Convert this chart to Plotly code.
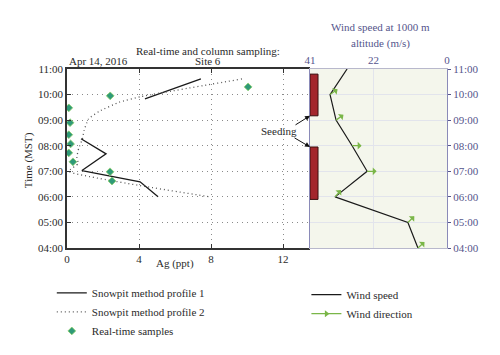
import math
import plotly.graph_objects as go

# ---------------- data ----------------
# Snowpit method profile 1 (solid): Ag (ppt) vs time (decimal hours, MST); None splits segments
p1_ag = [4.33, 7.44, None, 0.78, 2.17, 0.83, 4.06, 5.06]
p1_time = [9.83, 10.61, None, 8.27, 7.68, 7.03, 6.59, 6.00]

# Snowpit method profile 2 (dotted)
p2_ag = [9.72, 4.10, 2.90, 1.80, 1.20, 0.95, 0.85, 0.65, 0.55, 0.62, 0.10, 7.94]
p2_time = [10.61, 9.92, 9.70, 9.35, 9.05, 8.60, 8.25, 7.90, 7.55, 7.30, 7.00, 6.00]

# Real-time samples
rt_ag = [10.06, 2.40, 0.10, 0.17, 0.10, 0.20, 0.10, 0.33, 2.39, 2.50]
rt_time = [10.30, 9.95, 9.48, 8.90, 8.43, 8.07, 7.72, 7.37, 6.98, 6.62]

# Wind speed at 1000 m altitude (m/s)
ws_time = [11, 10, 9, 8, 7, 6, 5, 4]
ws_speed = [29.9, 35.0, 33.2, 28.4, 23.9, 33.5, 11.7, 8.7]

# Wind direction arrows (screen angle of arrow, degrees above east)
wd_time = [10, 9, 8, 7, 6, 5, 4]
wd_speed = [35.0, 33.2, 28.4, 23.9, 33.5, 11.7, 8.7]
wd_angle = [35, 36, 0, 0, 49, 44, 43]

# Seeding periods (decimal hours)
seed_start = [5.90, 9.17]
seed_end = [7.95, 10.80]

time_ticks = [4, 5, 6, 7, 8, 9, 10, 11]
time_labels = ["04:00", "05:00", "06:00", "07:00", "08:00", "09:00", "10:00", "11:00"]
ag_ticks = [0, 4, 8, 12]
ws_ticks = [41, 22, 0]

# ---------------- style ----------------
FONT = "Liberation Serif"
DARK = "#2b2b2b"
PURPLE = "#55558c"
GREEN = "#7ab648"
SPLIT = 243 / 380

fig = go.Figure()

fig.add_trace(go.Scatter(x=p1_ag, y=p1_time, mode="lines", name="Snowpit method profile 1",
                         line=dict(color="#1a1a1a", width=1.3), xaxis="x", yaxis="y",
                         legend="legend"))
fig.add_trace(go.Scatter(x=p2_ag, y=p2_time, mode="lines", name="Snowpit method profile 2",
                         line=dict(color="#555555", width=1.3, dash="1px,3px", shape="spline",
                                   smoothing=0.4),
                         xaxis="x", yaxis="y", legend="legend"))
fig.add_trace(go.Scatter(x=rt_ag, y=rt_time, mode="markers", name="Real-time samples",
                         marker=dict(symbol="diamond", size=6, color="#2f9a78",
                                     line=dict(color="#8ccf6a", width=0.8)),
                         xaxis="x", yaxis="y", legend="legend"))

fig.add_trace(go.Scatter(x=ws_speed, y=ws_time, mode="lines", name="Wind speed",
                         line=dict(color="#1a1a1a", width=1.2), xaxis="x2", yaxis="y2",
                         legend="legend2"))
fig.add_trace(go.Scatter(x=[None], y=[None], mode="lines+markers", name="Wind direction",
                         line=dict(color=GREEN, width=1.3),
                         marker=dict(symbol="triangle-right", size=6, color=GREEN),
                         xaxis="x2", yaxis="y2", legend="legend2"))

annotations = []
# wind direction arrows
L = 11
for s, t, a in zip(wd_speed, wd_time, wd_angle):
    annotations.append(dict(x=s, y=t, xref="x2", yref="y2", text="", showarrow=True,
                            ax=L * math.cos(math.radians(a)), ay=-L * math.sin(math.radians(a)),
                            axref="pixel", ayref="pixel", arrowside="start", arrowhead=2,
                            arrowsize=1, arrowwidth=1.3, arrowcolor=GREEN))

shapes = [
    dict(type="rect", xref="x2 domain", yref="y2 domain", x0=0, x1=1, y0=0, y1=1,
         fillcolor="#f4f6ec", line=dict(width=0), layer="below"),
]
for a, b in zip(seed_start, seed_end):
    shapes.append(dict(type="rect", xref="x2", yref="y2", x0=41, x1=38.6, y0=a, y1=b,
                       fillcolor="#a3262c", line=dict(color="#3a1010", width=1)))

# Seeding label and arrows
annotations.append(dict(x=11.8, y=8.58, xref="x", yref="y", text="Seeding", showarrow=False,
                        xanchor="center", yanchor="middle",
                        font=dict(family=FONT, size=11, color=DARK)))
annotations.append(dict(x=41, y=seed_start[1], xref="x2", yref="y2", text="", showarrow=True,
                        ax=-16, ay=10, arrowhead=2, arrowsize=1, arrowwidth=1, arrowcolor="#111"))
annotations.append(dict(x=41, y=seed_end[0], xref="x2", yref="y2", text="", showarrow=True,
                        ax=-17, ay=-10, arrowhead=2, arrowsize=1, arrowwidth=1, arrowcolor="#111"))


def label(x, y, text, color=DARK, xanchor="center", angle=0):
    return dict(x=x, y=y, xref="paper", yref="paper", text=text, showarrow=False,
                xanchor=xanchor, yanchor="middle", textangle=angle,
                font=dict(family=FONT, size=11, color=color))


annotations += [
    label(0, 1.045, "Apr 14, 2016", xanchor="left"),
    label(0.371, 1.100, "Real-time and column sampling:"),
    label(0.371, 1.042, "Site 6"),
    label(0.284, -0.084, "Ag (ppt)"),
    label(-0.103, 0.49, "Time (MST)", angle=-90),
    label(0.824, 1.235, "Wind speed at 1000 m", color=PURPLE),
    label(0.824, 1.145, "altitude (m/s)", color=PURPLE),
]

# The page body has an 8px margin, so the figure is 8px smaller on each offset side.
fig.update_layout(
    width=492, height=347,
    margin=dict(l=59, r=53, t=61, b=107, autoexpand=False),
    paper_bgcolor="white", plot_bgcolor="white",
    font=dict(family=FONT, size=11, color=DARK),
    xaxis=dict(domain=[0, SPLIT], range=[0, 13.5], tickvals=ag_ticks, ticks="inside",
               ticklen=4, tickcolor="#333", showline=True, linecolor="#333", linewidth=1.5,
               mirror="ticks", showgrid=True, gridcolor="#8a8a8a", griddash="1px,4px",
               gridwidth=1.2, zeroline=False, anchor="y", automargin=False,
               tickfont=dict(family=FONT, size=11, color=DARK)),
    yaxis=dict(range=[4, 11], tickvals=time_ticks, ticktext=time_labels, ticks="inside",
               ticklen=4, tickcolor="#333", showline=True, linecolor="#333", linewidth=1.5,
               showgrid=True, gridcolor="#8a8a8a", griddash="1px,4px", gridwidth=1.2,
               zeroline=False, anchor="x", automargin=False,
               tickfont=dict(family=FONT, size=11, color=DARK)),
    xaxis2=dict(domain=[SPLIT, 1], range=[41, 0], tickvals=ws_ticks, side="top", anchor="y2",
                ticks="", showline=True, linecolor="#b8b8cc", linewidth=1, mirror=True,
                showgrid=True, gridcolor="#e2e4ec", zeroline=False, automargin=False,
                tickfont=dict(family=FONT, size=11, color=PURPLE)),
    yaxis2=dict(range=[4, 11], tickvals=time_ticks, ticktext=time_labels, side="right",
                anchor="x2", ticks="outside", ticklen=3, tickcolor=PURPLE, showline=True,
                linecolor="#8a8ab8", linewidth=1.2, mirror=True, showgrid=True,
                gridcolor="#e2e4ec", zeroline=False, automargin=False,
                tickfont=dict(family=FONT, size=11, color=PURPLE)),
    legend=dict(x=-0.040, y=-0.17, xanchor="left", yanchor="top", bgcolor="rgba(0,0,0,0)",
                font=dict(family=FONT, size=11, color=DARK), tracegroupgap=0),
    legend2=dict(x=0.63, y=-0.18, xanchor="left", yanchor="top", bgcolor="rgba(0,0,0,0)",
                 font=dict(family=FONT, size=11, color=DARK), tracegroupgap=0),
    shapes=shapes,
    annotations=annotations,
)

fig.write_html("out.html")
